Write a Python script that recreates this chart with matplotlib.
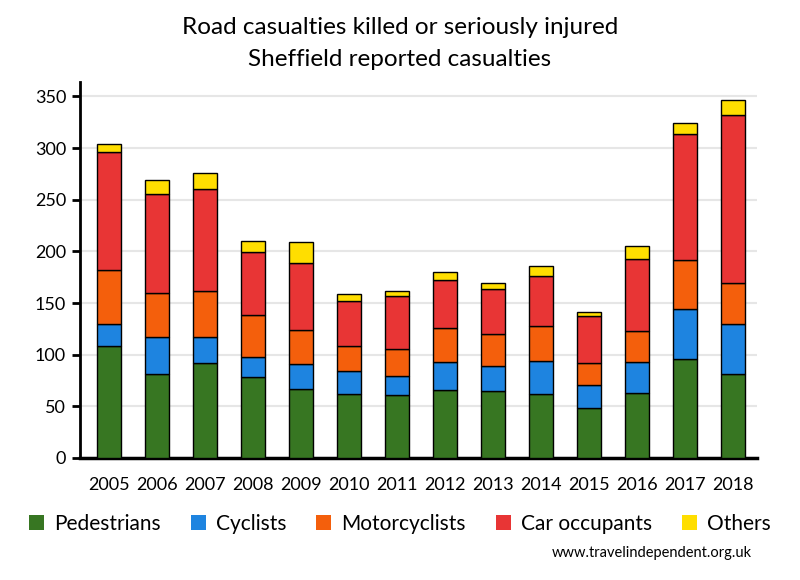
import matplotlib
matplotlib.use('Agg')
import numpy as np
import matplotlib.pyplot as plt
from matplotlib.patches import Patch

plt.rcParams['font.family'] = ['Lato', 'DejaVu Sans']

# data
years = ['2005', '2006', '2007', '2008', '2009', '2010', '2011',
         '2012', '2013', '2014', '2015', '2016', '2017', '2018']
pedestrians = [108, 81, 92, 78, 67, 62, 61, 66, 65, 62, 48, 63, 96, 81]
cyclists = [22, 36, 25, 20, 24, 22, 18, 27, 24, 32, 23, 30, 48, 49]
motorcyclists = [52, 43, 45, 40, 33, 24, 27, 33, 31, 34, 21, 30, 48, 39]
car_occupants = [114, 96, 98, 61, 65, 44, 51, 46, 44, 48, 45, 70, 122, 163]
others = [8, 13, 16, 11, 20, 7, 5, 8, 5, 10, 4, 12, 10, 15]

series = [('Pedestrians', pedestrians, '#377622'),
          ('Cyclists', cyclists, '#1e84e0'),
          ('Motorcyclists', motorcyclists, '#f45f0c'),
          ('Car occupants', car_occupants, '#e83535'),
          ('Others', others, '#ffde00')]

fig = plt.figure(figsize=(8, 5.8), dpi=100)
ax = fig.add_axes([80/800, 1 - 458/580, 677/800, 376/580])

x = np.arange(len(years))
bottom = np.zeros(len(years))
for name, vals, col in series:
    ax.bar(x, vals, width=0.5, bottom=bottom, color=col,
           edgecolor='black', linewidth=1, zorder=3)
    bottom += np.array(vals)

ax.set_xlim(-0.61, 13.5)
ax.set_ylim(0, 364)
ax.set_yticks(range(0, 351, 50))
ax.set_xticks(x)
ax.set_xticklabels(years)
ax.yaxis.grid(True, color='#e6e6e6', linewidth=1.5, zorder=0)
ax.set_axisbelow(True)

for s in ['top', 'right']:
    ax.spines[s].set_visible(False)
ax.spines['left'].set_linewidth(2)
ax.spines['bottom'].set_linewidth(2.5)
ax.tick_params(axis='y', length=6, width=2, labelsize=13, pad=4)
ax.tick_params(axis='x', length=0, labelsize=13, pad=14)

fig.text(0.5, 1 - 28/580, 'Road casualties killed or seriously injured',
         ha='center', va='center', fontsize=17.5)
fig.text(0.5, 1 - 60/580, 'Sheffield reported casualties',
         ha='center', va='center', fontsize=17.5)

handles = [Patch(facecolor=c, edgecolor='none') for _, _, c in series]
labels = [n for n, _, _ in series]
fig.legend(handles, labels, loc='center', bbox_to_anchor=(0.5, 1 - 524/580),
           ncol=5, frameon=False, fontsize=15, handlelength=0.72,
           handleheight=0.72, handletextpad=0.48, columnspacing=1.45)

fig.text(752/800, 1 - 553/580, 'www.travelindependent.org.uk',
         ha='right', va='center', fontsize=10.5)

plt.savefig('out.png', dpi=100)
